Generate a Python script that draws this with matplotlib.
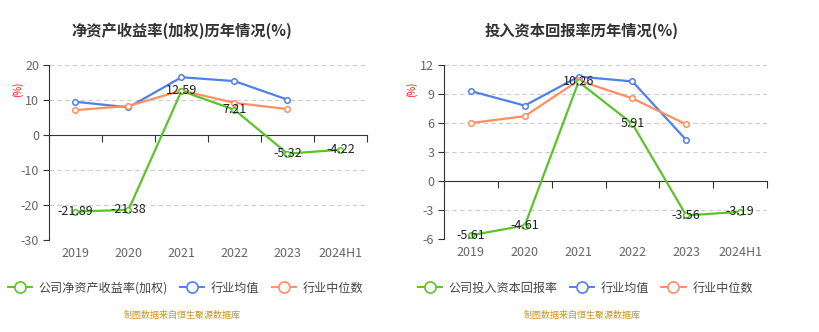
import numpy as np
import matplotlib.pyplot as plt
from matplotlib.lines import Line2D
from matplotlib.transforms import blended_transform_factory

plt.rcParams['font.family'] = ['Noto Sans CJK SC', 'DejaVu Sans']

years = ['2019', '2020', '2021', '2022', '2023', '2024H1']

roe_company = [-21.89, -21.38, 12.59, 7.21, -5.32, -4.22]
roe_mean = [9.5, 7.9, 16.5, 15.4, 10.1]
roe_median = [7.1, 8.3, 12.7, 9.2, 7.4]

roic_company = [-5.61, -4.61, 10.26, 5.91, -3.56, -3.19]
roic_mean = [9.3, 7.8, 10.8, 10.3, 4.24]
roic_median = [6.0, 6.7, 10.4, 8.55, 5.86]

GREEN = '#5cc42b'
BLUE = '#4f81e6'
ORANGE = '#ff8f62'

fig = plt.figure(figsize=(8.2, 3.32), dpi=100)
W, H = 820, 332


def box(x0, y0, x1, y1):
    return [x0 / W, 1 - y1 / H, (x1 - x0) / W, (y1 - y0) / H]


def draw(ax, company, mean, median, yticks, title, tx, legend_name, lx):
    x = np.arange(len(years))
    ax.set_xlim(-0.5, len(years) - 0.5)
    ax.set_ylim(yticks[0], yticks[-1])
    ax.set_yticks(yticks)
    ax.set_yticklabels([str(v) for v in yticks], color='#666666', fontsize=9)
    for v in yticks:
        if v != 0:
            ax.axhline(v, color='#cccccc', lw=0.8, dashes=(4, 3), zorder=0)

    kw = dict(marker='o', markersize=4, markerfacecolor='white', lw=1.6, markeredgewidth=1.1)
    ax.plot(x[:len(mean)], mean, color=BLUE, zorder=3, **kw)
    ax.plot(x[:len(median)], median, color=ORANGE, zorder=3, **kw)
    ax.plot(x, company, color=GREEN, zorder=4, **kw)
    for xi, v in zip(x, company):
        ax.text(xi, v, f'{v:.2f}', ha='center', va='center', fontsize=9,
                color='#222222', zorder=5)

    for s in ['top', 'right']:
        ax.spines[s].set_visible(False)
    ax.spines['bottom'].set_position(('data', 0))
    ax.spines['bottom'].set_color('#333333')
    ax.spines['left'].set_color('#333333')
    ax.set_xticks(np.arange(-0.5, len(years), 1))
    ax.set_xticklabels([])
    ax.tick_params(axis='x', length=5, color='#333333')
    ax.tick_params(axis='y', length=4, color='#333333', pad=3)

    tr = blended_transform_factory(ax.transData, ax.transAxes)
    for xi, lab in zip(x, years):
        ax.text(xi, -0.075, lab, transform=tr, ha='center', va='center',
                fontsize=9, color='#666666')

    ax.text(-0.1, 0.86, '(%)', transform=ax.transAxes, rotation=90, color='red',
            fontsize=7, ha='center', va='center')

    fig.text(tx / W, 1 - 31 / H, title, ha='center', va='center', fontsize=11,
             fontweight='bold', color='#333333')

    handles = [
        Line2D([], [], color=c, marker='o', markersize=8, markerfacecolor='white', lw=1.4,
               markeredgewidth=1.2)
        for c in (GREEN, BLUE, ORANGE)
    ]
    fig.legend(handles, [legend_name, '行业均值', '行业中位数'], loc='center left',
               bbox_to_anchor=(lx / W, 1 - 288 / H), ncol=3, frameon=False,
               fontsize=8.7, labelcolor='#444444', handlelength=2.0, handletextpad=0.55,
               columnspacing=1.0, borderaxespad=0, borderpad=0)

    fig.text(tx / W, 1 - 315 / H, '制图数据来自恒生聚源数据库', ha='center', va='center',
             fontsize=6.5, color='#c8961e')


ax1 = fig.add_axes(box(49, 65, 367, 240))
draw(ax1, roe_company, roe_mean, roe_median, [-30, -20, -10, 0, 10, 20],
     '净资产收益率(加权)历年情况(%)', 182, '公司净资产收益率(加权)', 8)

ax2 = fig.add_axes(box(444, 65, 767, 239))
draw(ax2, roic_company, roic_mean, roic_median, [-6, -3, 0, 3, 6, 9, 12],
     '投入资本回报率历年情况(%)', 582, '公司投入资本回报率', 418)

fig.savefig('out.png', dpi=100)
